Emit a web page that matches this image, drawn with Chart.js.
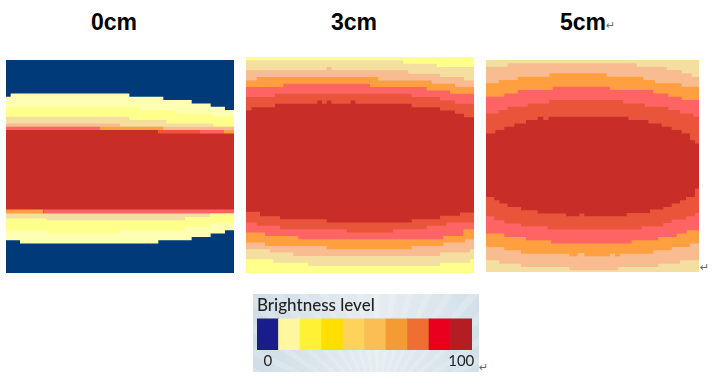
<!DOCTYPE html>
<html lang="en">
<head>
    <meta charset="UTF-8">
    <title>Brightness level</title>
    <script src="https://cdn.jsdelivr.net/npm/chart.js"></script>
    <style>
        body { margin: 0; background: #fff; width: 713px; height: 382px; position: relative; overflow: hidden; }
        canvas { position: absolute; }
        .title { position: absolute; top: 7px; font: bold 23px/30px "Liberation Sans", Arial, sans-serif; color: #000; }
        .mark { position: absolute; font: 11px/12px "DejaVu Sans", sans-serif; color: #666; }
        #legendBox {
            position: absolute; left: 253px; top: 294px; width: 226px; height: 78px;
            background:
                repeating-conic-gradient(from 270deg at 55% 150%, rgba(255,255,255,.16) 0 3deg, transparent 3deg 8deg),
                linear-gradient(90deg, #cfdde6, #e6edf1 55%, #d3e0e9);
        }
    </style>
</head>
<body>
    <div class="title" style="left:91px">0cm</div>
    <div class="title" style="left:331px">3cm</div>
    <div class="title" style="left:560px">5cm</div>
    <div class="mark" style="left:606px;top:20px">↵</div>
    <div class="mark" style="left:700px;top:262px">↵</div>
    <div class="mark" style="left:479px;top:362px">↵</div>
    <div id="legendBox"></div>
    <canvas id="cm0" width="228" height="213" style="left:6px;top:60px"></canvas>
    <canvas id="cm3" width="228" height="216" style="left:246px;top:57px"></canvas>
    <canvas id="cm5" width="213" height="212" style="left:486px;top:60px"></canvas>
    <canvas id="legend" width="226" height="78" style="left:253px;top:294px"></canvas>
    <script>
        // colours of the maps
        const colors = {
            navy: '#003a78', pale: '#ffffb4', yellow: '#ffff8c', tan: '#f5dfa0', peach: '#f8bc90',
            orange: '#ff9f40', pink: '#ff6464', ember: '#e8553a', red: '#c82d27'
        };

        // each row: band name, then x,y pairs where that band starts (going down the map)
        const cm0Bands = [
            ['navy', 18,30, 702,30],
            ['pale', 18,140, 32,130, 388,140, 490,150, 575,160, 632,170, 675,180, 702,180],
            ['yellow', 18,170, 420,180, 530,190, 640,200, 702,200],
            ['tan', 18,200, 388,210, 500,220, 640,230, 702,230],
            ['peach', 18,220, 360,230, 702,240],
            ['pink', 18,230, 300,230],
            ['orange', 300,230, 490,230],
            ['ember', 475,240, 600,240],
            ['pink', 600,240, 672,240],
            ['orange', 672,240, 702,240],
            ['red', 18,240, 475,250, 702,250],
            ['orange', 18,478, 130,478],
            ['pink', 130,478, 702,478],
            ['tan', 18,490, 702,490],
            ['yellow', 18,505, 140,510, 555,500, 630,490, 702,490],
            ['pale', 18,540, 140,550, 360,540, 555,530, 630,520, 702,520],
            ['navy', 18,570, 60,580, 475,570, 575,560, 632,550, 675,540, 702,540]
        ];
        const cm3Bands = [
            ['yellow', 18,22, 702,22],
            ['tan', 18,32, 490,42, 590,52, 702,52],
            ['peach', 18,62, 260,52, 275,62, 505,72, 600,82, 672,92, 702,92],
            ['orange', 18,92, 50,82, 415,92, 575,102, 645,112, 702,112],
            ['pink', 18,112, 130,102, 390,112, 560,122, 630,132, 702,132],
            ['ember', 18,142, 105,132, 515,142, 600,152, 645,162, 702,162],
            ['red', 18,182, 35,172, 105,162, 232,152, 246,162, 260,152, 274,162, 332,152, 346,162, 515,172, 600,182, 645,192, 672,202, 702,202],
            ['ember', 18,485, 60,498, 120,507, 260,517, 515,507, 600,497, 660,487, 702,487],
            ['pink', 18,517, 50,527, 120,537, 320,547, 460,537, 560,527, 620,517, 702,517],
            ['orange', 18,547, 75,557, 175,567, 610,557, 670,537, 702,537],
            ['peach', 18,577, 75,587, 260,597, 515,587, 610,577, 675,567, 702,567],
            ['tan', 18,597, 90,607, 160,617, 600,607, 690,597, 702,597],
            ['yellow', 18,627, 100,637, 205,647, 600,637, 690,627, 702,627]
        ];
        const cm5Bands = [
            ['tan', 18,30, 657,30],
            ['peach', 18,50, 83,40, 470,50, 560,60, 605,70, 635,80, 657,80],
            ['orange', 18,100, 56,90, 113,80, 208,70, 380,80, 490,90, 525,100, 605,110, 657,110],
            ['pink', 18,140, 73,130, 113,120, 218,110, 390,120, 520,130, 565,140, 605,150, 657,150],
            ['ember', 18,190, 56,180, 83,170, 143,160, 208,150, 430,160, 495,170, 565,180, 600,190, 640,200, 657,200],
            ['red', 18,250, 46,240, 73,230, 103,220, 138,210, 173,200, 190,210, 205,200, 445,210, 505,220, 545,230, 575,240, 605,250, 630,270, 645,280, 657,280],
            ['ember', 18,440, 43,450, 58,460, 83,470, 123,480, 173,490, 258,498, 298,490, 313,498, 440,488, 510,478, 550,470, 575,460, 600,450, 618,440, 645,415, 657,415],
            ['pink', 18,498, 43,510, 73,520, 123,528, 203,538, 485,528, 550,518, 575,508, 618,498, 645,488, 657,488],
            ['orange', 18,550, 73,560, 138,570, 213,580, 455,570, 535,560, 590,550, 620,540, 657,540],
            ['peach', 18,590, 73,600, 123,610, 268,618, 293,608, 313,618, 390,610, 405,618, 420,610, 520,600, 575,590, 630,580, 657,580],
            ['tan', 18,630, 58,640, 123,650, 268,660, 415,650, 535,640, 600,630, 657,630]
        ];

        const legendTicks = ['0', '', '', '', '', '', '', '', '', '100'];
        const legendLevels = [1, 1, 1, 1, 1, 1, 1, 1, 1, 1];
        const legendColors = ['#1b1c8c', '#fff6a0', '#fff133', '#ffdf00', '#ffd35a', '#fbbe55', '#f59b35', '#ef6e32', '#e8001e', '#b41e23'];

        function drawMap(id, bands, xMin, xMax, yMin, yMax) {
            // later rows paint over earlier ones, chart.js draws the first dataset last
            const datasets = bands.map(row => {
                const pts = [];
                for (let i = 1; i < row.length; i += 2) pts.push({ x: row[i], y: row[i + 1] });
                return {
                    data: pts,
                    stepped: true,
                    borderWidth: 0,
                    pointRadius: 0,
                    backgroundColor: colors[row[0]],
                    fill: { value: yMax }
                };
            }).reverse();
            new Chart(document.getElementById(id), {
                type: 'line',
                data: { datasets },
                options: {
                    responsive: false,
                    animation: false,
                    parsing: false,
                    plugins: { legend: { display: false }, tooltip: { enabled: false } },
                    scales: {
                        x: { type: 'linear', min: xMin, max: xMax, display: false },
                        y: { type: 'linear', min: yMin, max: yMax, reverse: true, display: false }
                    }
                }
            });
        }

        drawMap('cm0', cm0Bands, 18, 702, 30, 668);
        drawMap('cm3', cm3Bands, 18, 702, 22, 668);
        drawMap('cm5', cm5Bands, 18, 657, 30, 665);

        new Chart(document.getElementById('legend'), {
            type: 'bar',
            data: {
                labels: legendTicks,
                datasets: [{ data: legendLevels, backgroundColor: legendColors, barPercentage: 1, categoryPercentage: 1 }]
            },
            options: {
                responsive: false,
                animation: false,
                layout: { padding: { left: 4, right: 7 } },
                plugins: {
                    legend: { display: false },
                    tooltip: { enabled: false },
                    title: {
                        display: true,
                        text: 'Brightness level',
                        align: 'start',
                        color: '#222',
                        font: { family: 'Lato', size: 17, weight: '500' },
                        padding: { top: 1, bottom: 3 }
                    }
                },
                scales: {
                    x: {
                        grid: { display: false, drawTicks: false },
                        border: { display: false },
                        ticks: { autoSkip: false, maxRotation: 0, padding: 2, color: '#222', font: { family: 'Lato', size: 15 } }
                    },
                    y: { display: false, min: 0, max: 1 }
                }
            }
        });
    </script>
</body>
</html>
